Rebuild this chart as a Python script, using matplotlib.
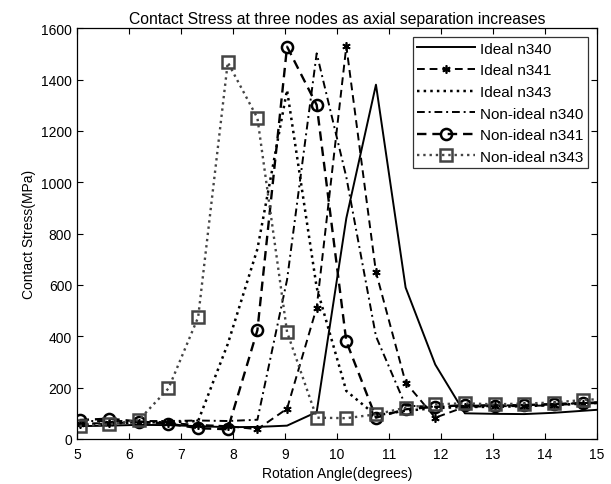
import matplotlib
matplotlib.use("Agg")
import matplotlib.pyplot as plt

plt.rcParams['font.family'] = ['Liberation Sans', 'DejaVu Sans']

angles = [5.05, 5.62, 6.19, 6.76, 7.33, 7.90, 8.47, 9.04, 9.61, 10.18,
          10.75, 11.32, 11.89, 12.46, 13.03, 13.60, 14.17, 14.74, 15.31]

ideal_n340 = [50, 52, 55, 54, 50, 46, 47, 52, 105, 860, 1380, 590, 290, 100, 98, 97, 102, 110, 118]
ideal_n341 = [60, 62, 64, 62, 55, 50, 38, 118, 512, 1530, 650, 220, 83, 125, 128, 128, 132, 138, 142]
ideal_n343 = [55, 60, 65, 65, 70, 370, 740, 1359, 590, 187, 92, 110, 120, 125, 125, 128, 132, 138, 142]
nonideal_n340 = [70, 70, 70, 70, 72, 70, 75, 620, 1502, 1020, 400, 130, 125, 130, 130, 132, 135, 140, 145]
nonideal_n341 = [74, 79, 68, 60, 42, 38, 424, 1528, 1301, 380, 83, 116, 125, 132, 130, 132, 136, 140, 145]
nonideal_n343 = [51, 57, 74, 197, 474, 1467, 1250, 417, 83, 81, 96, 122, 135, 139, 135, 138, 142, 152, 158]

labels = ['Ideal n340', 'Ideal n341', 'Ideal n343',
          'Non-ideal n340', 'Non-ideal n341', 'Non-ideal n343']

fig = plt.figure(figsize=(6.11, 4.85), dpi=100)
ax = fig.add_axes([0.126, 0.0928, 0.851, 0.847])

lw = 1.4
asterisk = (6, 2, 0)
ax.plot(angles, ideal_n340, '-', color='black', lw=lw, label=labels[0])
ax.plot(angles, ideal_n341, '--', color='black', lw=lw, marker=asterisk,
        ms=6, mew=1.2, label=labels[1], dashes=(4, 2.5))
ax.plot(angles, ideal_n343, ':', color='black', lw=lw + 0.4, label=labels[2])
ax.plot(angles, nonideal_n340, '-.', color='black', lw=lw, label=labels[3],
        dashes=(4, 2, 1, 2))
ax.plot(angles, nonideal_n341, '--', color='black', lw=lw + 0.3, marker='o',
        ms=8, mfc='none', mew=1.8, label=labels[4], dashes=(4, 2.5))
ax.plot(angles, nonideal_n343, ':', color='#444444', lw=lw + 0.3, marker='s',
        ms=8, mfc='none', mec='#444444', mew=1.8, label=labels[5])

ax.set_xlim(5, 15)
ax.set_ylim(0, 1600)
ax.set_xticks(range(5, 16))
ax.set_yticks(range(0, 1601, 200))
ax.tick_params(direction='in', top=True, right=True, labelsize=10, length=4, width=0.8)
ax.tick_params(axis='x', pad=5.5)
for s in ax.spines.values():
    s.set_linewidth(0.9)

ax.set_title('Contact Stress at three nodes as axial separation increases', fontsize=11.3, pad=4)
ax.set_xlabel('Rotation Angle(degrees)', fontsize=10, labelpad=4)
ax.set_ylabel('Contact Stress(MPa)', fontsize=10, labelpad=4)

leg = ax.legend(loc='upper right', fontsize=11, frameon=True, fancybox=False,
                edgecolor='black', handlelength=3.8, borderpad=0.28,
                labelspacing=0.5, handletextpad=0.33, borderaxespad=0.6)
leg.get_frame().set_linewidth(0.9)

fig.savefig('out.png', dpi=100)
